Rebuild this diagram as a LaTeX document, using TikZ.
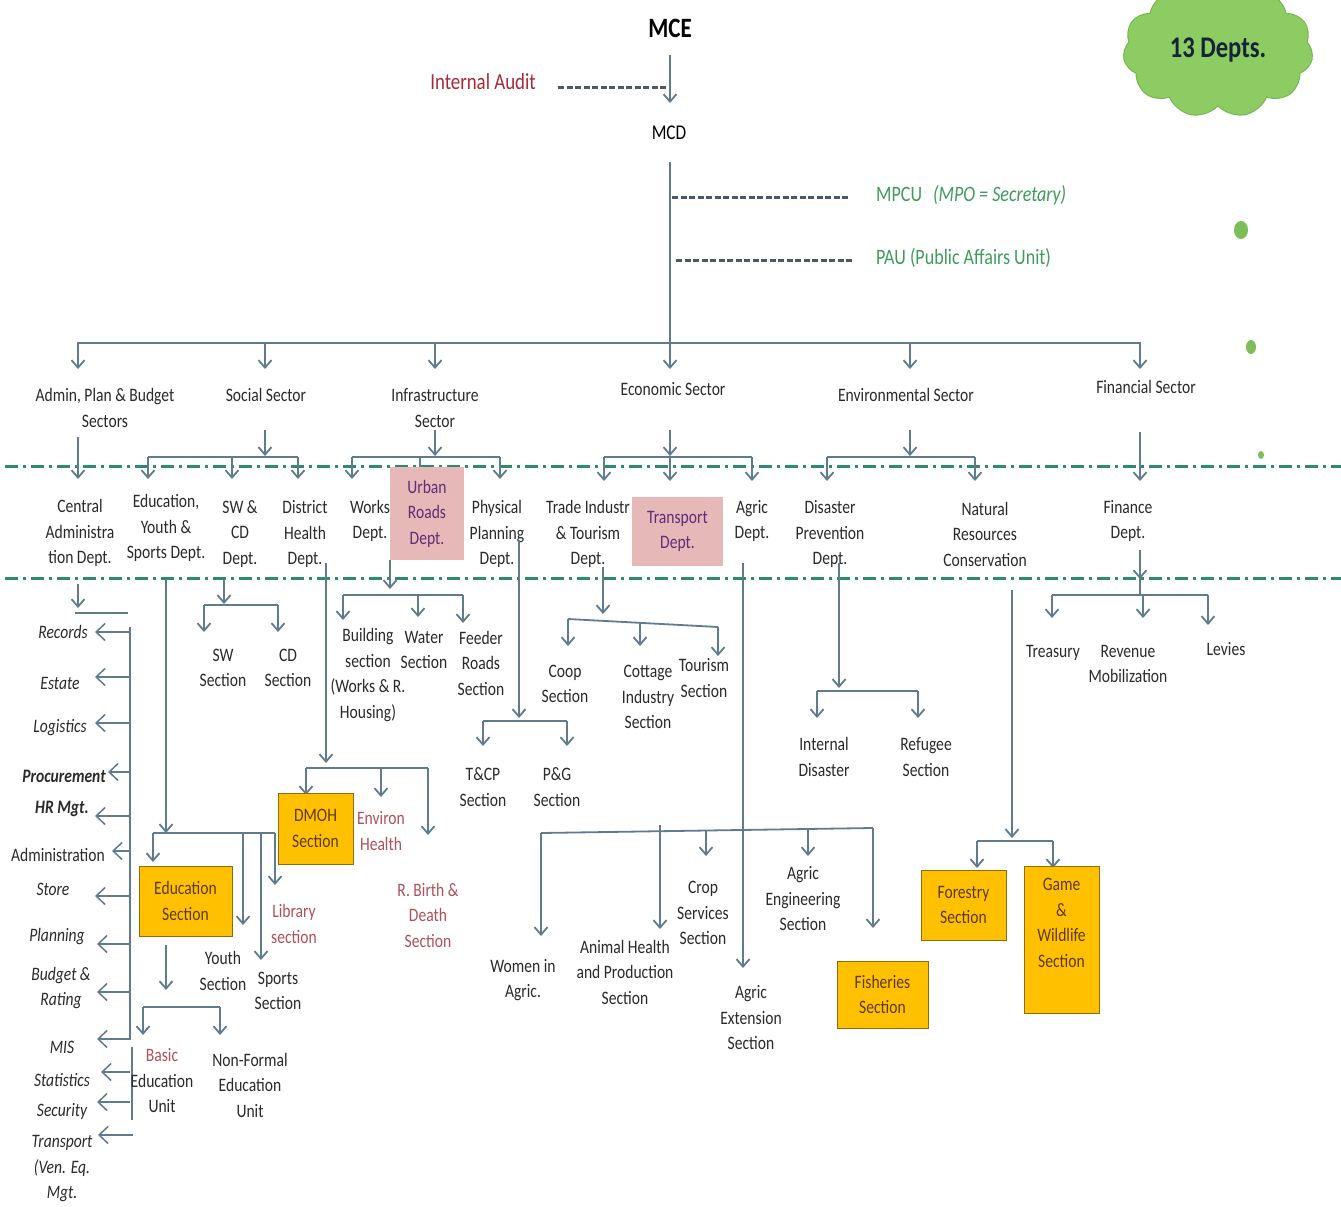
\documentclass[tikz,border=0pt]{standalone}
\usepackage{fontspec}
\setmainfont{Carlito}[FakeStretch=0.82]
\usetikzlibrary{arrows.meta,shapes.symbols}
\definecolor{ln}{HTML}{5E7B8F}
\definecolor{dsh}{HTML}{4B5966}
\definecolor{ddg}{HTML}{2E8B6C}
\definecolor{txt}{HTML}{2A2A2A}
\definecolor{rtxt}{HTML}{A82A36}
\definecolor{ltred}{HTML}{B2505A}
\definecolor{gtxt}{HTML}{3E9C5C}
\definecolor{pinkbox}{HTML}{E6B8B7}
\definecolor{purp}{HTML}{5E2D79}
\definecolor{orng}{HTML}{FFC000}
\definecolor{orngd}{HTML}{8C6D12}
\definecolor{btxt}{HTML}{5C3A14}
\definecolor{cloudg}{HTML}{8DCB63}
\definecolor{cloudd}{HTML}{79B553}
\definecolor{dotg}{HTML}{7CBF5A}
\newcommand\fsz{\fontsize{19}{25.5}\selectfont}
\begin{document}
\begin{tikzpicture}[x=1pt,y=-1pt,
  lbl/.style={align=center,inner sep=0pt,text=txt,font=\fsz},
  itl/.style={lbl,font=\fsz\itshape},
  bit/.style={lbl,font=\fsz\bfseries\itshape},
  rlbl/.style={lbl,text=ltred},
  obox/.style={draw=orngd,line width=1pt,fill=orng,text=btxt,align=center,font=\fsz,inner sep=0pt},
  pbox/.style={fill=pinkbox,text=purp,align=center,font=\fsz,inner sep=0pt},
  conn/.style={draw=ln,line width=1.8pt},
  arr/.style={conn,-{Straight Barb[length=7.5pt,width=13pt]}},
  larr/.style={draw=ln,line width=1.5pt,-{Straight Barb[length=9pt,width=17pt]}},
  dsl/.style={draw=dsh,line width=3pt,dash pattern=on 6pt off 2.5pt},
  ddl/.style={draw=ddg,line width=3pt,dash pattern=on 13pt off 5pt on 3pt off 5pt},
]
\useasboundingbox[fill=white] (0,0) rectangle (1341,1207);

% separator lines
\draw[ddl] (5,466) -- (1341,466);
\draw[ddl] (5,578) -- (1341,578);

% cloud and dots
\node[cloud, cloud puffs=11, cloud puff arc=115, aspect=1.6, minimum width=190pt, minimum height=135pt,
      fill=cloudg, draw=cloudd, line width=1pt, inner sep=0pt,
      font=\fontsize{30}{32}\selectfont\bfseries, text={rgb,255:red,20;green,35;blue,55}] (cloud) at (1218,50) {13 Depts.};
\fill[dotg] (1241,230) ellipse (7pt and 9pt);
\fill[dotg] (1251,347) ellipse (5pt and 7pt);
\fill[dotg] (1261,455) ellipse (3pt and 4pt);

% top
\node[inner sep=0pt, font=\fontsize{28}{30}\selectfont\bfseries] (mce) at (670,28) {MCE};
\node[inner sep=0pt, font=\fontsize{21}{24}\selectfont] (mcd) at (669,133) {MCD};
\node[inner sep=0pt, font=\fontsize{23}{26}\selectfont, text=rtxt] (ia) at (483,82) {Internal Audit};
\node[anchor=west, inner sep=0pt, font=\fontsize{22}{24}\selectfont, text=gtxt] (mpcu) at (876,195) {MPCU\enspace\textit{(MPO = Secretary)}};
\node[anchor=west, inner sep=0pt, font=\fontsize{22}{24}\selectfont, text=gtxt] (pau) at (876,258) {PAU (Public Affairs Unit)};

\draw[arr] (670,55) -- (670,103);
\draw[dsl] (558,87) -- (668,87);
\draw[conn] (670,162) -- (670,343);
\draw[dsl] (672,197) -- (848,197);
\draw[dsl] (676,260) -- (852,260);

% sector bar
\draw[conn] (77,343) -- (1141,343);
\foreach \x in {78,265,435,670,910,1140} \draw[arr] (\x,343) -- (\x,369);

% sectors
\node[lbl] (adm) at (105,408) {Admin, Plan \& Budget\\Sectors};
\node[lbl] (soc) at (266,395) {Social Sector};
\node[lbl] (inf) at (435,408) {Infrastructure\\Sector};
\node[lbl] (eco) at (673,389) {Economic Sector};
\node[lbl] (env) at (906,395) {Environmental Sector};
\node[lbl] (fin) at (1146,387) {Financial Sector};

% sector -> dept connectors
\draw[arr] (78,437) -- (78,479);
\draw[arr] (265,430) -- (265,456);
\draw[conn] (148,457) -- (298,457);
\foreach \x in {148,232,298} \draw[arr] (\x,457) -- (\x,479);
\draw[arr] (435,430) -- (435,456);
\draw[conn] (352,457) -- (500,457);
\foreach \x in {352,500} \draw[arr] (\x,457) -- (\x,479);
\draw[conn] (420,457) -- (420,468);
\draw[arr] (670,430) -- (670,456);
\draw[conn] (604,457) -- (752,457);
\foreach \x in {604,670,752} \draw[arr] (\x,457) -- (\x,481);
\draw[arr] (910,430) -- (910,456);
\draw[conn] (827,457) -- (975,457);
\foreach \x in {827,975} \draw[arr] (\x,457) -- (\x,481);
\draw[arr] (1140,432) -- (1140,481);

% departments
\node[lbl] (cad) at (80,533) {Central\\Administra\\tion Dept.};
\node[lbl] (eys) at (166,528) {Education,\\Youth \&\\Sports Dept.};
\node[lbl] (swcd) at (240,534) {SW \&\\CD\\Dept.};
\node[lbl] (dhd) at (305,534) {District\\Health\\Dept.};
\node[lbl] (wrk) at (370,521) {Works\\Dept.};
\node[pbox, minimum width=74pt, minimum height=93pt] (urd) at (427,513.5) {Urban\\Roads\\Dept.};
\node[lbl] (ppd) at (497,534) {Physical\\Planning\\Dept.};
\node[lbl] (tit) at (588,534) {Trade Industr\\\& Tourism\\Dept.};
\node[pbox, minimum width=91pt, minimum height=69pt] (trd) at (677.5,531.5) {Transport\\Dept.};
\node[lbl] (agd) at (752,521) {Agric\\Dept.};
\node[lbl] (dpd) at (830,534) {Disaster\\Prevention\\Dept.};
\node[lbl] (nrc) at (985,534) {Natural\\Resources\\Conservation};
\node[lbl] (fnd) at (1128,521) {Finance\\Dept.};

% central administration list
\draw[arr] (78,584) -- (78,608);
\draw[draw=ln,line width=1.5pt] (75,613) -- (128,613);
\draw[draw=ln,line width=1.5pt] (130,627) -- (130,1040);
\draw[draw=ln,line width=1.5pt] (132,1047) -- (132,1120);
\foreach \y/\t in {632/95,677/95,723/95,772/108,816/95,851/112,896/95,944/97,992/97,1039/97,1072/101,1102/97}
  \draw[larr] (130,\y) -- (\t,\y);
\draw[larr] (133,1135) -- (98,1135);
\node[itl] (rec) at (63,632) {Records};
\node[itl] (est) at (60,683) {Estate};
\node[itl] (log) at (60,728) {Logistics};
\node[bit] (pro) at (64,776) {Procurement};
\node[bit] (hrm) at (62,809) {HR Mgt.};
\node[lbl] (adn) at (58,855) {Administration};
\node[itl] (sto) at (53,889) {Store};
\node[itl] (pln) at (57,937) {Planning};
\node[itl] (bud) at (61,988) {Budget \&\\Rating};
\node[itl] (mis) at (62,1047) {MIS};
\node[itl] (sta) at (62,1080) {Statistics};
\node[itl] (sec) at (62,1111) {Security};
\node[itl] (trn) at (62,1169) {Transport\\(Ven. Eq.\\Mgt.};

% education, youth & sports
\draw[arr] (166,580) -- (166,833);
\draw[conn] (153,833) -- (275,833);
\draw[arr] (153,833) -- (153,862);
\draw[arr] (243,833) -- (243,925);
\draw[arr] (261,833) -- (261,960);
\draw[arr] (275,833) -- (275,885);
\node[obox, minimum width=93pt, minimum height=70pt] (eds) at (185.5,901) {Education\\Section};
\node[rlbl] (lib) at (294,924) {Library\\section};
\node[lbl] (yth) at (223,971) {Youth\\Section};
\node[lbl] (spt) at (278,991) {Sports\\Section};
\draw[arr] (166,945) -- (166,990);
\draw[conn] (143,1007) -- (220,1007);
\draw[arr] (143,1007) -- (143,1035);
\draw[arr] (220,1007) -- (220,1035);
\node[lbl] (beu) at (162,1081) {\textcolor{ltred}{Basic}\\Education\\Unit};
\node[lbl] (nfe) at (250,1085) {Non-Formal\\Education\\Unit};

% SW & CD
\draw[arr] (224,580) -- (224,604);
\draw[conn] (204,605) -- (278,605);
\draw[arr] (204,605) -- (204,632);
\draw[arr] (278,605) -- (278,632);
\node[lbl] (sws) at (223,668) {SW\\Section};
\node[lbl] (cds) at (288,668) {CD\\Section};

% district health
\draw[arr] (326,563) -- (326,763);
\draw[conn] (306,768) -- (428,768);
\draw[arr] (306,768) -- (306,795);
\draw[arr] (381,768) -- (381,797);
\draw[arr] (428,768) -- (428,835);
\node[obox, minimum width=75pt, minimum height=71pt] (dmoh) at (315.5,828.5) {DMOH\\Section};
\node[rlbl] (enh) at (381,831) {Environ\\Health};
\node[rlbl] (rbd) at (428,915) {R. Birth \&\\Death\\Section};

% urban roads
\draw[arr] (390,560) -- (390,589);
\draw[conn] (343,595) -- (463,595);
\draw[arr] (343,595) -- (343,620);
\draw[arr] (418,595) -- (418,617);
\draw[arr] (463,595) -- (463,623);
\node[lbl] (bld) at (368,675) {Building\\section\\(Works \& R.\\Housing)};
\node[lbl] (wat) at (424,650) {Water\\Section};
\node[lbl] (fdr) at (481,663) {Feeder\\Roads\\Section};

% physical planning
\draw[arr] (519,540) -- (519,718);
\draw[conn] (483,721) -- (567,721);
\draw[arr] (483,721) -- (483,746);
\draw[arr] (567,721) -- (567,746);
\node[lbl] (tcp) at (483,787) {T\&CP\\Section};
\node[lbl] (pg) at (557,787) {P\&G\\Section};

% trade industry & tourism
\draw[arr] (603,567) -- (603,614);
\draw[conn] (568,619) -- (718,627);
\draw[arr] (568,619) -- (568,646);
\draw[arr] (640,623) -- (640,646);
\draw[arr] (718,627) -- (718,656);
\node[lbl] (coop) at (565,684) {Coop\\Section};
\node[lbl] (cot) at (648,697) {Cottage\\Industry\\Section};
\node[lbl] (tou) at (704,678) {Tourism\\Section};

% agric
\draw[arr] (743,563) -- (743,968);
\draw[conn] (541,833) -- (873,828);
\draw[arr] (541,833) -- (541,936);
\draw[arr] (660,825) -- (660,929);
\draw[arr] (706,831) -- (706,856);
\draw[arr] (808,829) -- (808,856);
\draw[arr] (873,828) -- (873,928);
\node[lbl] (wia) at (523,980) {Women in\\Agric.};
\node[lbl] (ahp) at (625,972) {Animal Health\\and Production\\Section};
\node[lbl] (crp) at (703,913) {Crop\\Services\\Section};
\node[lbl] (aes) at (803,899) {Agric\\Engineering\\Section};
\node[lbl] (axs) at (751,1018) {Agric\\Extension\\Section};
\node[obox, minimum width=91pt, minimum height=67pt] (fis) at (882.5,994.5) {Fisheries\\Section};

% disaster prevention
\draw[arr] (839,563) -- (839,688);
\draw[conn] (817,691) -- (918,691);
\draw[arr] (817,691) -- (817,718);
\draw[arr] (918,691) -- (918,718);
\node[lbl] (ids) at (824,757) {Internal\\Disaster};
\node[lbl] (rfs) at (926,757) {Refugee\\Section};

% natural resources
\draw[arr] (1012,590) -- (1012,838);
\draw[conn] (977,841) -- (1053,841);
\draw[arr] (977,841) -- (977,868);
\draw[arr] (1053,841) -- (1053,868);
\node[obox, minimum width=85pt, minimum height=70pt] (for) at (963.5,905) {Forestry\\Section};
\node[obox, minimum width=75pt, minimum height=147pt] (gws) at (1061.5,939.5) {Game\\\&\\Wildlife\\Section\\\strut};

% finance
\draw[arr] (1140,550) -- (1140,579);
\draw[conn] (1140,578) -- (1140,595);
\draw[conn] (1052,595) -- (1208,595);
\draw[arr] (1052,595) -- (1052,618);
\draw[arr] (1143,595) -- (1143,618);
\draw[arr] (1208,595) -- (1208,625);
\node[lbl] (tre) at (1053,653) {Treasury};
\node[lbl] (rev) at (1128,664) {Revenue\\Mobilization};
\node[lbl] (lev) at (1226,649) {Levies};
\end{tikzpicture}
\end{document}
